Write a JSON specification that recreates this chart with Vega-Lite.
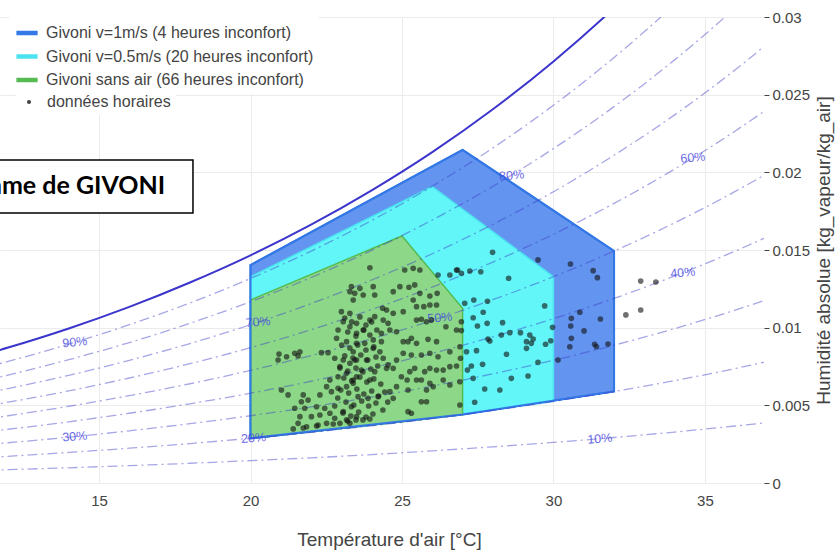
{
"$schema": "https://vega.github.io/schema/vega-lite/v6.json",
"width": 764, "height": 466,
"autosize": {"type": "none"},
"padding": {"left": 0, "top": 17, "right": 73, "bottom": 72},
"background": "white",
"config": {"view": {"stroke": null}, "font": "Liberation Sans"},
"datasets": {
"zones": [
{"serie":"Givoni v=1m/s (4 heures inconfort)","T":20,"top":0.01403,"bot":0.00288},
{"serie":"Givoni v=1m/s (4 heures inconfort)","T":27,"top":0.02144,"bot":0.00441},
{"serie":"Givoni v=1m/s (4 heures inconfort)","T":32,"top":0.01494,"bot":0.00589},
{"serie":"Givoni v=0.5m/s (20 heures inconfort)","T":20,"top":0.01328,"bot":0.00288},
{"serie":"Givoni v=0.5m/s (20 heures inconfort)","T":26,"top":0.01908,"bot":0.00418},
{"serie":"Givoni v=0.5m/s (20 heures inconfort)","T":30,"top":0.01328,"bot":0.00525},
{"serie":"Givoni sans air (66 heures inconfort)","T":20,"top":0.01178,"bot":0.00288},
{"serie":"Givoni sans air (66 heures inconfort)","T":25,"top":0.0159,"bot":0.00395},
{"serie":"Givoni sans air (66 heures inconfort)","T":27,"top":0.01125,"bot":0.00441}
],
"rh": [
{"T":10,"rh":10,"w":0.00075},{"T":10,"rh":20,"w":0.00151},{"T":10,"rh":30,"w":0.00227},{"T":10,"rh":40,"w":0.00303},{"T":10,"rh":50,"w":0.00379},{"T":10,"rh":60,"w":0.00455},{"T":10,"rh":70,"w":0.00531},{"T":10,"rh":80,"w":0.00608},{"T":10,"rh":90,"w":0.00685},{"T":10,"rh":100,"w":0.00762},
{"T":12,"rh":10,"w":0.00086},{"T":12,"rh":20,"w":0.00172},{"T":12,"rh":30,"w":0.00259},{"T":12,"rh":40,"w":0.00346},{"T":12,"rh":50,"w":0.00433},{"T":12,"rh":60,"w":0.0052},{"T":12,"rh":70,"w":0.00608},{"T":12,"rh":80,"w":0.00695},{"T":12,"rh":90,"w":0.00783},{"T":12,"rh":100,"w":0.00872},
{"T":14,"rh":10,"w":0.00098},{"T":14,"rh":20,"w":0.00197},{"T":14,"rh":30,"w":0.00295},{"T":14,"rh":40,"w":0.00394},{"T":14,"rh":50,"w":0.00494},{"T":14,"rh":60,"w":0.00593},{"T":14,"rh":70,"w":0.00693},{"T":14,"rh":80,"w":0.00794},{"T":14,"rh":90,"w":0.00894},{"T":14,"rh":100,"w":0.00995},
{"T":16,"rh":10,"w":0.00112},{"T":16,"rh":20,"w":0.00224},{"T":16,"rh":30,"w":0.00336},{"T":16,"rh":40,"w":0.00449},{"T":16,"rh":50,"w":0.00562},{"T":16,"rh":60,"w":0.00676},{"T":16,"rh":70,"w":0.0079},{"T":16,"rh":80,"w":0.00904},{"T":16,"rh":90,"w":0.01019},{"T":16,"rh":100,"w":0.01134},
{"T":18,"rh":10,"w":0.00127},{"T":18,"rh":20,"w":0.00254},{"T":18,"rh":30,"w":0.00382},{"T":18,"rh":40,"w":0.0051},{"T":18,"rh":50,"w":0.00639},{"T":18,"rh":60,"w":0.00768},{"T":18,"rh":70,"w":0.00898},{"T":18,"rh":80,"w":0.01028},{"T":18,"rh":90,"w":0.01159},{"T":18,"rh":100,"w":0.01291},
{"T":20,"rh":10,"w":0.00144},{"T":20,"rh":20,"w":0.00288},{"T":20,"rh":30,"w":0.00433},{"T":20,"rh":40,"w":0.00578},{"T":20,"rh":50,"w":0.00725},{"T":20,"rh":60,"w":0.00871},{"T":20,"rh":70,"w":0.01019},{"T":20,"rh":80,"w":0.01167},{"T":20,"rh":90,"w":0.01317},{"T":20,"rh":100,"w":0.01466},
{"T":22,"rh":10,"w":0.00162},{"T":22,"rh":20,"w":0.00326},{"T":22,"rh":30,"w":0.0049},{"T":22,"rh":40,"w":0.00655},{"T":22,"rh":50,"w":0.00821},{"T":22,"rh":60,"w":0.00987},{"T":22,"rh":70,"w":0.01155},{"T":22,"rh":80,"w":0.01323},{"T":22,"rh":90,"w":0.01493},{"T":22,"rh":100,"w":0.01663},
{"T":24,"rh":10,"w":0.00183},{"T":24,"rh":20,"w":0.00368},{"T":24,"rh":30,"w":0.00553},{"T":24,"rh":40,"w":0.0074},{"T":24,"rh":50,"w":0.00928},{"T":24,"rh":60,"w":0.01117},{"T":24,"rh":70,"w":0.01307},{"T":24,"rh":80,"w":0.01498},{"T":24,"rh":90,"w":0.0169},{"T":24,"rh":100,"w":0.01884},
{"T":26,"rh":10,"w":0.00207},{"T":26,"rh":20,"w":0.00415},{"T":26,"rh":30,"w":0.00624},{"T":26,"rh":40,"w":0.00835},{"T":26,"rh":50,"w":0.01047},{"T":26,"rh":60,"w":0.01261},{"T":26,"rh":70,"w":0.01476},{"T":26,"rh":80,"w":0.01693},{"T":26,"rh":90,"w":0.01911},{"T":26,"rh":100,"w":0.0213},
{"T":28,"rh":10,"w":0.00233},{"T":28,"rh":20,"w":0.00467},{"T":28,"rh":30,"w":0.00703},{"T":28,"rh":40,"w":0.00941},{"T":28,"rh":50,"w":0.0118},{"T":28,"rh":60,"w":0.01422},{"T":28,"rh":70,"w":0.01665},{"T":28,"rh":80,"w":0.0191},{"T":28,"rh":90,"w":0.02157},{"T":28,"rh":100,"w":0.02406},
{"T":30,"rh":10,"w":0.00261},{"T":30,"rh":20,"w":0.00525},{"T":30,"rh":30,"w":0.0079},{"T":30,"rh":40,"w":0.01058},{"T":30,"rh":50,"w":0.01328},{"T":30,"rh":60,"w":0.01601},{"T":30,"rh":70,"w":0.01875},{"T":30,"rh":80,"w":0.02153},{"T":30,"rh":90,"w":0.02432},{"T":30,"rh":100,"w":0.02714},
{"T":32,"rh":10,"w":0.00293},{"T":32,"rh":20,"w":0.00589},{"T":32,"rh":30,"w":0.00887},{"T":32,"rh":40,"w":0.01188},{"T":32,"rh":50,"w":0.01493},{"T":32,"rh":60,"w":0.018},{"T":32,"rh":70,"w":0.0211},{"T":32,"rh":80,"w":0.02423},{"T":32,"rh":90,"w":0.02739},{"T":32,"rh":100,"w":0.03058},
{"T":34,"rh":10,"w":0.00328},{"T":34,"rh":20,"w":0.00659},{"T":34,"rh":30,"w":0.00994},{"T":34,"rh":40,"w":0.01333},{"T":34,"rh":50,"w":0.01675},{"T":34,"rh":60,"w":0.02021},{"T":34,"rh":70,"w":0.0237},{"T":34,"rh":80,"w":0.02724},{"T":34,"rh":90,"w":0.03081},{"T":34,"rh":100,"w":0.03442},
{"T":36,"rh":10,"w":0.00367},{"T":36,"rh":20,"w":0.00737},{"T":36,"rh":30,"w":0.01113},{"T":36,"rh":40,"w":0.01493},{"T":36,"rh":50,"w":0.01877},{"T":36,"rh":60,"w":0.02266},{"T":36,"rh":70,"w":0.0266},{"T":36,"rh":80,"w":0.03059},{"T":36,"rh":90,"w":0.03462},{"T":36,"rh":100,"w":0.03871},
{"T":38,"rh":10,"w":0.00409},{"T":38,"rh":20,"w":0.00824},{"T":38,"rh":30,"w":0.01244},{"T":38,"rh":40,"w":0.0167},{"T":38,"rh":50,"w":0.02101},{"T":38,"rh":60,"w":0.02538},{"T":38,"rh":70,"w":0.02982},{"T":38,"rh":80,"w":0.03431},{"T":38,"rh":90,"w":0.03887},{"T":38,"rh":100,"w":0.04349}
],
"rhlabels": [
{"label":"90%","T":14.2,"w":0.00906},{"label":"30%","T":14.2,"w":0.00299},{"label":"20%","T":20.1,"w":0.00289},
{"label":"70%","T":20.25,"w":0.01036},{"label":"50%","T":26.25,"w":0.01064},{"label":"80%","T":28.62,"w":0.0198},
{"label":"60%","T":34.6,"w":0.02094},{"label":"40%","T":34.27,"w":0.01354},{"label":"10%","T":31.53,"w":0.00285}
],
"points": [
{"T":27.99,"w":0.01485},{"T":29.49,"w":0.01436},{"T":30.56,"w":0.0141},{"T":31.31,"w":0.01367},{"T":31.45,"w":0.01322},{"T":26.83,"w":0.01371},{"T":26.96,"w":0.0135},{"T":27.24,"w":0.01365},{"T":27.6,"w":0.0136},{"T":28.52,"w":0.01318},
{"T":27.07,"w":0.01157},{"T":27.37,"w":0.01178},{"T":27.82,"w":0.0117},{"T":29.71,"w":0.0114},{"T":27.68,"w":0.01099},{"T":27.35,"w":0.01064},{"T":26.96,"w":0.01038},{"T":27.49,"w":0.01011},{"T":27.81,"w":0.01028},{"T":28.32,"w":0.01032},
{"T":30.87,"w":0.01099},{"T":30.59,"w":0.0106},{"T":31.55,"w":0.01056},{"T":30.57,"w":0.01011},{"T":29.97,"w":0.01002},{"T":31.01,"w":0.00979},{"T":26.96,"w":0.00981},{"T":27.84,"w":0.00927},{"T":27.9,"w":0.00914},{"T":28.28,"w":0.00953},
{"T":28.56,"w":0.00968},{"T":28.91,"w":0.00968},{"T":29.22,"w":0.00953},{"T":29.33,"w":0.00927},{"T":29.11,"w":0.0091},{"T":29.27,"w":0.00899},{"T":29.11,"w":0.00867},{"T":29.74,"w":0.00893},{"T":29.91,"w":0.00916},{"T":30.59,"w":0.00932},
{"T":30.54,"w":0.00877},{"T":31.36,"w":0.00893},{"T":31.42,"w":0.00877},{"T":31.8,"w":0.00895},{"T":27.13,"w":0.00845},{"T":27.46,"w":0.00852},{"T":28.45,"w":0.00829},{"T":30.15,"w":0.00792},{"T":29.49,"w":0.00777},{"T":27.29,"w":0.00753},
{"T":27.66,"w":0.00764},{"T":27.16,"w":0.00727},{"T":27.35,"w":0.00674},{"T":28.61,"w":0.00674},{"T":29.16,"w":0.00689},{"T":27.73,"w":0.00605},{"T":28.23,"w":0.00599},{"T":27.4,"w":0.0052},{"T":32.88,"w":0.013},{"T":33.38,"w":0.01294},
{"T":32.39,"w":0.01082},{"T":32.88,"w":0.01114},
{"T":24.71,"w":0.01232},{"T":24.93,"w":0.01264},{"T":25.23,"w":0.0126},{"T":25.42,"w":0.01275},{"T":25.37,"w":0.01178},{"T":25.59,"w":0.01221},{"T":25.92,"w":0.01204},{"T":26.16,"w":0.01221},{"T":26.14,"w":0.01146},{"T":25.72,"w":0.01135},
{"T":25.48,"w":0.01049},{"T":25.64,"w":0.01054},{"T":25.81,"w":0.01038},{"T":25.97,"w":0.01049},{"T":26.45,"w":0.01006},{"T":26.8,"w":0.00985},{"T":25.04,"w":0.01103},{"T":24.71,"w":0.01093},{"T":24.49,"w":0.01114},{"T":24.36,"w":0.01125},
{"T":23.94,"w":0.01049},{"T":24.1,"w":0.01071},{"T":24.38,"w":0.01049},{"T":24.54,"w":0.01028},{"T":24.6,"w":0.00985},{"T":24.32,"w":0.00964},{"T":24.82,"w":0.00974},{"T":25.04,"w":0.0091},{"T":25.2,"w":0.0091},{"T":25.31,"w":0.00932},
{"T":25.48,"w":0.00899},{"T":25.86,"w":0.00925},{"T":26.14,"w":0.0091},{"T":25.64,"w":0.00824},{"T":25.92,"w":0.00835},{"T":26.19,"w":0.00813},{"T":26.58,"w":0.00845},{"T":26.91,"w":0.00877},{"T":26.93,"w":0.00803},{"T":26.58,"w":0.00749},
{"T":26.8,"w":0.00753},{"T":26.36,"w":0.00727},{"T":26.14,"w":0.00727},{"T":25.92,"w":0.00738},{"T":25.75,"w":0.00717},{"T":25.42,"w":0.00738},{"T":25.26,"w":0.00717},{"T":24.98,"w":0.00684},{"T":25.17,"w":0.00663},{"T":25.48,"w":0.00663},
{"T":25.64,"w":0.00663},{"T":25.92,"w":0.00642},{"T":26.03,"w":0.0062},{"T":26.36,"w":0.00663},{"T":26.58,"w":0.00631},{"T":26.91,"w":0.00652},{"T":24.82,"w":0.0062},{"T":25.2,"w":0.00599},{"T":24.6,"w":0.00588},{"T":24.21,"w":0.00556},
{"T":23.94,"w":0.00663},{"T":24.1,"w":0.00717},{"T":24.49,"w":0.00738},{"T":24.54,"w":0.0076},{"T":24.71,"w":0.00738},{"T":24.82,"w":0.00792},{"T":24.38,"w":0.00803},{"T":24.27,"w":0.00845},{"T":24.05,"w":0.00867},{"T":23.77,"w":0.00899},
{"T":23.72,"w":0.00985},{"T":23.5,"w":0.00964},{"T":23.44,"w":0.00792},{"T":23.66,"w":0.00727},{"T":23.39,"w":0.00663},{"T":23.55,"w":0.00556},{"T":23.88,"w":0.00545},{"T":24.71,"w":0.00545},{"T":25.2,"w":0.00459},{"T":25.31,"w":0.00449},
{"T":25.64,"w":0.00523},{"T":25.81,"w":0.00523},{"T":26.91,"w":0.00502},{"T":25.81,"w":0.00599},{"T":25.04,"w":0.00835},{"T":25.31,"w":0.00824},{"T":23.83,"w":0.00792},{"T":24.05,"w":0.00921},{"T":24.32,"w":0.0091},
{"T":23.28,"w":0.01232},{"T":23.39,"w":0.01178},{"T":23.0,"w":0.01103},{"T":23.28,"w":0.01093},{"T":23.06,"w":0.01038},{"T":22.89,"w":0.00985},{"T":23.28,"w":0.01006},{"T":23.5,"w":0.01028},{"T":22.84,"w":0.00932},{"T":23.17,"w":0.0091},
{"T":23.5,"w":0.00899},{"T":23.39,"w":0.00845},{"T":20.94,"w":0.0083},{"T":20.91,"w":0.00792},{"T":21.19,"w":0.00813},{"T":21.46,"w":0.00835},{"T":21.63,"w":0.00845},{"T":21.57,"w":0.00818},{"T":22.34,"w":0.00839},{"T":22.56,"w":0.00839},
{"T":22.78,"w":0.00803},{"T":23.06,"w":0.00792},{"T":23.28,"w":0.00771},{"T":23.5,"w":0.00792},{"T":22.95,"w":0.00749},{"T":23.17,"w":0.00706},{"T":22.89,"w":0.00684},{"T":22.62,"w":0.00663},{"T":22.51,"w":0.0062},{"T":22.67,"w":0.00588},
{"T":22.89,"w":0.0061},{"T":23.17,"w":0.0062},{"T":23.39,"w":0.00642},{"T":23.5,"w":0.00684},{"T":21.02,"w":0.00599},{"T":21.24,"w":0.00567},{"T":21.74,"w":0.00567},{"T":21.9,"w":0.00534},{"T":21.68,"w":0.00523},{"T":21.46,"w":0.00481},
{"T":21.79,"w":0.00481},{"T":22.29,"w":0.00567},{"T":22.18,"w":0.00491},{"T":22.45,"w":0.00481},{"T":21.63,"w":0.00427},{"T":22.01,"w":0.00427},{"T":22.29,"w":0.00438},{"T":22.62,"w":0.00449},{"T":22.78,"w":0.00417},{"T":23.06,"w":0.00459},
{"T":23.33,"w":0.00491},{"T":23.17,"w":0.00406},{"T":23.5,"w":0.00427},{"T":21.57,"w":0.00384},{"T":21.85,"w":0.00362},{"T":22.23,"w":0.00373},{"T":22.51,"w":0.00384},{"T":22.95,"w":0.00384},{"T":23.28,"w":0.00384},{"T":21.41,"w":0.00348},
{"T":21.74,"w":0.00354},{"T":22.18,"w":0.00367},{"T":22.73,"w":0.0038},
{"T":23.94,"w":0.01386},{"T":23.33,"w":0.01264},{"T":23.61,"w":0.01253},{"T":23.44,"w":0.01221},{"T":23.72,"w":0.0121},{"T":24.05,"w":0.01264},{"T":24.1,"w":0.0121},{"T":25.59,"w":0.01371},{"T":25.09,"w":0.01371},{"T":25.37,"w":0.01382},
{"T":26.19,"w":0.01339},{"T":26.58,"w":0.01339},{"T":26.8,"w":0.01371},{"T":25.92,"w":0.01146},{"T":25.48,"w":0.01135},
{"T":23.11,"w":0.01062},{"T":23.34,"w":0.01037},{"T":23.61,"w":0.01069},{"T":23.81,"w":0.01017},{"T":24.0,"w":0.01037},{"T":23.21,"w":0.00972},{"T":23.48,"w":0.00946},{"T":23.74,"w":0.00985},{"T":23.94,"w":0.00953},{"T":24.17,"w":0.00985},
{"T":23.01,"w":0.00888},{"T":23.28,"w":0.00869},{"T":23.54,"w":0.00888},{"T":23.81,"w":0.00856},{"T":24.07,"w":0.00876},{"T":23.11,"w":0.00818},{"T":23.38,"w":0.00805},{"T":23.64,"w":0.00824},{"T":23.87,"w":0.00792},{"T":24.14,"w":0.00811},
{"T":22.95,"w":0.0074},{"T":23.21,"w":0.00721},{"T":23.48,"w":0.0074},{"T":23.71,"w":0.00715},{"T":23.97,"w":0.00734},{"T":24.2,"w":0.00753},{"T":23.08,"w":0.00676},{"T":23.34,"w":0.00657},{"T":23.61,"w":0.00682},{"T":23.84,"w":0.0065},
{"T":24.07,"w":0.0067},{"T":24.3,"w":0.00637},{"T":22.98,"w":0.00599},{"T":23.24,"w":0.00579},{"T":23.51,"w":0.00605},{"T":23.74,"w":0.00573},{"T":24.0,"w":0.00592},{"T":24.23,"w":0.0056},{"T":23.15,"w":0.00521},{"T":23.41,"w":0.00502},
{"T":23.67,"w":0.00528},{"T":23.9,"w":0.00496},{"T":24.14,"w":0.00515},{"T":23.05,"w":0.00451},{"T":23.31,"w":0.00431},{"T":23.57,"w":0.00457},{"T":23.81,"w":0.00425},{"T":24.04,"w":0.00444},{"T":23.21,"w":0.00399},{"T":23.48,"w":0.00406},
{"T":23.71,"w":0.00406},{"T":23.94,"w":0.00412},{"T":22.88,"w":0.00547},{"T":22.78,"w":0.00496},{"T":24.43,"w":0.00586},{"T":24.53,"w":0.00521},{"T":24.37,"w":0.0047}
],
"titlebox": [{"T1":5,"T2":18.1,"w1":0.01738,"w2":0.0208,"T":17.18,"w":0.01909,"titre":"Diagramme de GIVONI"}]
},
"encoding": {
"x": {"field":"T","type":"quantitative","scale":{"domain":[11.73,36.95],"nice":false,"zero":false},
 "axis":{"title":"Température d'air [°C]","values":[15,20,25,30,35],"grid":true,"gridColor":"#ebebeb","domain":false,"ticks":false,"tickSize":0,"labelPadding":10,"labelFontSize":15,"labelColor":"#444","labelFlush":false,"titleFontSize":19,"titleFontWeight":"normal","titleColor":"#444","titlePadding":22,"titleX":389}},
"y": {"field":"w","type":"quantitative","scale":{"domain":[0,0.03],"nice":false,"zero":false},
 "axis":{"orient":"right","title":"Humidité absolue [kg_vapeur/kg_air]","values":[0,0.005,0.01,0.015,0.02,0.025,0.03],"format":"~g","grid":true,"gridColor":"#ebebeb","domain":false,"ticks":true,"tickSize":5,"tickColor":"#444","labelPadding":3,"labelFontSize":15,"labelColor":"#444","labelFlush":false,"labelOverlap":false,"titleFontSize":19,"titleFontWeight":"normal","titleColor":"#444","titleAngle":270,"titleX":59,"titleY":233,"titleAlign":"center","titleBaseline":"middle"}}
},
"layer": [
{"data":{"name":"zones"},"transform":[{"filter":"datum.serie === 'Givoni v=1m/s (4 heures inconfort)'"}],
 "mark":{"type":"area","fill":"#6394ef","strokeWidth":2,"opacity":1},
 "encoding":{"y":{"field":"top","type":"quantitative","scale":{"domain":[0,0.03],"nice":false,"zero":false},
   "axis":{"orient":"right","title":"Humidité absolue [kg_vapeur/kg_air]","values":[0,0.005,0.01,0.015,0.02,0.025,0.03],"format":"~g","grid":true,"gridColor":"#ebebeb","domain":false,"ticks":true,"tickSize":5,"tickColor":"#444","labelPadding":3,"labelFontSize":15,"labelColor":"#444","labelFlush":false,"labelOverlap":false,"titleFontSize":19,"titleFontWeight":"normal","titleColor":"#444","titleAngle":270,"titleX":59,"titleY":233,"titleAlign":"center","titleBaseline":"middle"}},
  "y2":{"field":"bot"},
  "stroke":{"field":"serie","type":"nominal","scale":{"domain":["Givoni v=1m/s (4 heures inconfort)","Givoni v=0.5m/s (20 heures inconfort)","Givoni sans air (66 heures inconfort)"],"range":["#3378e6","#4ce3f0","#55bb52"]},
   "legend":{"title":null,"orient":"none","legendX":9,"legendY":-2,"fillColor":"white","padding":5,"labelFont":"Liberation Sans","labelFontSize":16,"labelColor":"#444","labelOffset":6,"labelLimit":400,"symbolType":"stroke","symbolSize":450,"symbolStrokeWidth":4.5,"rowPadding":1.5}}}},
{"data":{"name":"zones"},"transform":[{"filter":"datum.serie === 'Givoni v=0.5m/s (20 heures inconfort)'"}],
 "mark":{"type":"area","fill":"#62f6f8","strokeWidth":1.5,"opacity":1},
 "encoding":{"y":{"field":"top","type":"quantitative","scale":{"domain":[0,0.03],"nice":false,"zero":false},
   "axis":{"orient":"right","title":"Humidité absolue [kg_vapeur/kg_air]","values":[0,0.005,0.01,0.015,0.02,0.025,0.03],"format":"~g","grid":true,"gridColor":"#ebebeb","domain":false,"ticks":true,"tickSize":5,"tickColor":"#444","labelPadding":3,"labelFontSize":15,"labelColor":"#444","labelFlush":false,"labelOverlap":false,"titleFontSize":19,"titleFontWeight":"normal","titleColor":"#444","titleAngle":270,"titleX":59,"titleY":233,"titleAlign":"center","titleBaseline":"middle"}},
  "y2":{"field":"bot"},
  "stroke":{"field":"serie","type":"nominal"}}},
{"data":{"name":"zones"},"transform":[{"filter":"datum.serie === 'Givoni sans air (66 heures inconfort)'"}],
 "mark":{"type":"area","fill":"#8dd888","strokeWidth":1.5,"opacity":1},
 "encoding":{"y":{"field":"top","type":"quantitative","scale":{"domain":[0,0.03],"nice":false,"zero":false},
   "axis":{"orient":"right","title":"Humidité absolue [kg_vapeur/kg_air]","values":[0,0.005,0.01,0.015,0.02,0.025,0.03],"format":"~g","grid":true,"gridColor":"#ebebeb","domain":false,"ticks":true,"tickSize":5,"tickColor":"#444","labelPadding":3,"labelFontSize":15,"labelColor":"#444","labelFlush":false,"labelOverlap":false,"titleFontSize":19,"titleFontWeight":"normal","titleColor":"#444","titleAngle":270,"titleX":59,"titleY":233,"titleAlign":"center","titleBaseline":"middle"}},
  "y2":{"field":"bot"},
  "stroke":{"field":"serie","type":"nominal"}}},
{"data":{"name":"zones"},"transform":[{"filter":"datum.serie === 'Givoni v=1m/s (4 heures inconfort)'"}],
 "mark":{"type":"area","fill":"transparent","stroke":"#3378e6","strokeWidth":2},
 "encoding":{"y":{"field":"top","type":"quantitative","scale":{"domain":[0,0.03],"nice":false,"zero":false},
   "axis":{"orient":"right","title":"Humidité absolue [kg_vapeur/kg_air]","values":[0,0.005,0.01,0.015,0.02,0.025,0.03],"format":"~g","grid":true,"gridColor":"#ebebeb","domain":false,"ticks":true,"tickSize":5,"tickColor":"#444","labelPadding":3,"labelFontSize":15,"labelColor":"#444","labelFlush":false,"labelOverlap":false,"titleFontSize":19,"titleFontWeight":"normal","titleColor":"#444","titleAngle":270,"titleX":59,"titleY":233,"titleAlign":"center","titleBaseline":"middle"}},
  "y2":{"field":"bot"}}},
{"data":{"name":"rh"},"transform":[{"filter":"datum.rh < 100"}],
 "mark":{"type":"line","clip":true,"interpolate":"monotone","stroke":"#3c3cc8","strokeWidth":1.3,"opacity":0.45,"strokeDash":[10,4,2,4]},
 "encoding":{"detail":{"field":"rh","type":"nominal"}}},
{"data":{"name":"rh"},"transform":[{"filter":"datum.rh === 100"}],
 "mark":{"type":"line","clip":true,"interpolate":"monotone","stroke":"#3b35cc","strokeWidth":2},
 "encoding":{}},
{"data":{"name":"rhlabels"},
 "mark":{"type":"text","font":"Liberation Sans","fontSize":12.5,"fill":"#4747e0","opacity":0.8,"align":"center","baseline":"middle"},
 "encoding":{"text":{"field":"label"},
  "angle":{"field":"label","type":"nominal","scale":{"domain":["10%","20%","30%","40%","50%","60%","70%","80%","90%"],"range":[-4.6,-5.5,-6,-22,-19,-32,-19,-32,-17.7]},"legend":null}}},
{"data":{"name":"points"},
 "mark":{"type":"point","filled":true,"size":32,"opacity":0.6,"strokeWidth":0,"color":"#111111"},
 "encoding":{"shape":{"datum":"données horaires","type":"nominal","scale":{"domain":["données horaires"],"range":["circle"]},
   "legend":{"title":null,"orient":"none","legendX":16,"legendY":72,"fillColor":"white","padding":5,"labelFont":"Liberation Sans","labelFontSize":16,"labelColor":"#444","labelOffset":10,"labelLimit":400,"symbolSize":16,"symbolFillColor":"#777777","symbolOpacity":0.8}}}},
{"data":{"name":"titlebox"},
 "mark":{"type":"rect","fill":"white","stroke":"black","strokeWidth":1.5},
 "encoding":{"x":{"field":"T1","type":"quantitative","scale":{"domain":[11.73,36.95],"nice":false,"zero":false},
   "axis":{"title":"Température d'air [°C]","values":[15,20,25,30,35],"grid":true,"gridColor":"#ebebeb","domain":false,"ticks":false,"tickSize":0,"labelPadding":10,"labelFontSize":15,"labelColor":"#444","labelFlush":false,"titleFontSize":19,"titleFontWeight":"normal","titleColor":"#444","titlePadding":22,"titleX":389}},
  "x2":{"field":"T2"},
  "y":{"field":"w1","type":"quantitative","scale":{"domain":[0,0.03],"nice":false,"zero":false},
   "axis":{"orient":"right","title":"Humidité absolue [kg_vapeur/kg_air]","values":[0,0.005,0.01,0.015,0.02,0.025,0.03],"format":"~g","grid":true,"gridColor":"#ebebeb","domain":false,"ticks":true,"tickSize":5,"tickColor":"#444","labelPadding":3,"labelFontSize":15,"labelColor":"#444","labelFlush":false,"labelOverlap":false,"titleFontSize":19,"titleFontWeight":"normal","titleColor":"#444","titleAngle":270,"titleX":59,"titleY":233,"titleAlign":"center","titleBaseline":"middle"}},
  "y2":{"field":"w2"}}},
{"data":{"name":"titlebox"},
 "mark":{"type":"text","font":"Lato","fontWeight":"bold","fontSize":25,"fill":"black","align":"right","baseline":"middle"},
 "encoding":{"text":{"field":"titre"}}}
]
}
